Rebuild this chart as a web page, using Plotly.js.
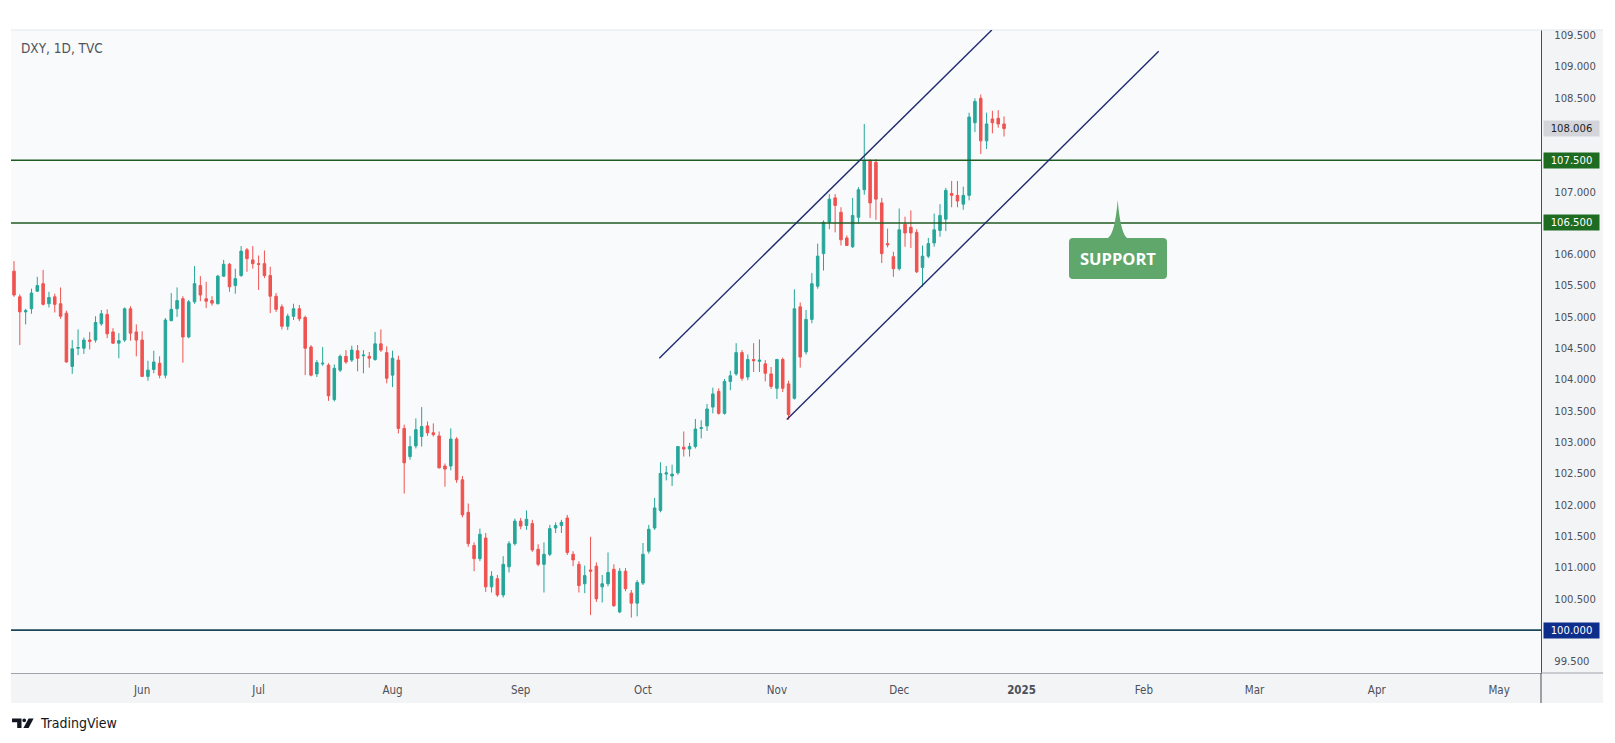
<!DOCTYPE html>
<html><head><meta charset="utf-8">
<script src="https://cdn.plot.ly/plotly-3.0.1.min.js"></script>
<style>html,body{margin:0;padding:0;background:#fff;}#chart{width:1615px;height:743px;}</style>
</head><body><div id="chart"></div>
<script>
// ---------- DATA ----------
const dates = [
'2024-05-02','2024-05-03','2024-05-06','2024-05-07','2024-05-08','2024-05-09','2024-05-10','2024-05-13','2024-05-14','2024-05-15',
'2024-05-16','2024-05-17','2024-05-20','2024-05-21','2024-05-22','2024-05-23','2024-05-24','2024-05-27','2024-05-28','2024-05-29',
'2024-05-30','2024-05-31','2024-06-03','2024-06-04','2024-06-05','2024-06-06','2024-06-07','2024-06-10','2024-06-11','2024-06-12',
'2024-06-13','2024-06-14','2024-06-17','2024-06-18','2024-06-19','2024-06-20','2024-06-21','2024-06-24','2024-06-25','2024-06-26',
'2024-06-27','2024-06-28','2024-07-01','2024-07-02','2024-07-03','2024-07-04','2024-07-05','2024-07-08','2024-07-09','2024-07-10',
'2024-07-11','2024-07-12','2024-07-15','2024-07-16','2024-07-17','2024-07-18','2024-07-19','2024-07-22','2024-07-23','2024-07-24',
'2024-07-25','2024-07-26','2024-07-29','2024-07-30','2024-07-31','2024-08-01','2024-08-02','2024-08-05','2024-08-06','2024-08-07',
'2024-08-08','2024-08-09','2024-08-12','2024-08-13','2024-08-14','2024-08-15','2024-08-16','2024-08-19','2024-08-20','2024-08-21',
'2024-08-22','2024-08-23','2024-08-26','2024-08-27','2024-08-28','2024-08-29','2024-08-30','2024-09-02','2024-09-03','2024-09-04',
'2024-09-05','2024-09-06','2024-09-09','2024-09-10','2024-09-11','2024-09-12','2024-09-13','2024-09-16','2024-09-17','2024-09-18',
'2024-09-19','2024-09-20','2024-09-23','2024-09-24','2024-09-25','2024-09-26','2024-09-27','2024-09-30','2024-10-01','2024-10-02',
'2024-10-03','2024-10-04','2024-10-07','2024-10-08','2024-10-09','2024-10-10','2024-10-11','2024-10-14','2024-10-15','2024-10-16',
'2024-10-17','2024-10-18','2024-10-21','2024-10-22','2024-10-23','2024-10-24','2024-10-25','2024-10-28','2024-10-29','2024-10-30',
'2024-10-31','2024-11-01','2024-11-04','2024-11-05','2024-11-06','2024-11-07','2024-11-08','2024-11-11','2024-11-12','2024-11-13',
'2024-11-14','2024-11-15','2024-11-18','2024-11-19','2024-11-20','2024-11-21','2024-11-22','2024-11-25','2024-11-26','2024-11-27',
'2024-11-28','2024-11-29','2024-12-02','2024-12-03','2024-12-04','2024-12-05','2024-12-06','2024-12-09','2024-12-10','2024-12-11',
'2024-12-12','2024-12-13','2024-12-16','2024-12-17','2024-12-18','2024-12-19','2024-12-20','2024-12-23','2024-12-24','2024-12-26',
'2024-12-27'];

const openP = [
105.73,105.32,105.08,105.13,105.41,105.53,105.21,105.32,105.21,105.06,
104.21,104.50,104.50,104.63,104.63,104.89,105.04,104.76,104.58,104.63,
105.13,104.76,104.63,104.05,104.16,104.26,104.07,104.94,105.13,105.29,
104.68,105.24,105.50,105.29,105.26,105.21,105.65,105.84,105.50,105.66,
106.07,105.91,105.85,105.85,105.66,105.33,105.16,104.85,105.01,105.13,
104.99,104.52,104.09,104.25,104.23,103.68,104.15,104.37,104.31,104.46,
104.38,104.37,104.32,104.57,104.43,104.07,104.31,103.22,102.77,102.94,
103.09,103.26,103.15,103.10,102.62,102.62,103.05,102.40,101.88,101.35,
101.14,101.47,100.69,100.82,100.56,101.01,101.38,101.74,101.67,101.70,
101.29,101.05,101.21,101.63,101.67,101.79,101.21,101.05,100.74,100.96,
101.02,100.69,100.74,100.97,100.29,100.94,100.59,100.43,100.75,101.26,
101.63,101.91,102.49,102.46,102.51,102.92,102.89,102.93,103.22,103.26,
103.56,103.81,103.46,103.97,104.09,104.43,104.04,104.32,104.29,104.25,
104.09,103.86,104.32,103.93,103.70,105.16,104.44,104.96,105.49,106.01,
106.51,106.90,106.67,106.26,106.12,106.59,107.03,107.49,107.47,106.82,
106.17,105.96,105.77,106.48,106.43,106.35,105.79,105.97,106.18,106.38,
106.56,106.97,106.94,106.80,106.94,108.10,108.49,107.81,108.16,108.17,
108.08];

const highP = [
105.89,105.36,105.13,105.45,105.64,105.75,105.40,105.37,105.47,105.10,
104.63,104.80,104.67,104.76,105.01,105.11,105.12,104.82,104.74,105.15,
105.17,104.88,104.77,104.30,104.46,104.37,104.98,105.38,105.47,105.33,
105.27,105.81,105.65,105.56,105.33,105.67,105.91,105.86,105.77,106.13,
106.10,106.13,105.98,106.06,105.80,105.38,105.20,105.05,105.21,105.19,
105.02,104.55,104.31,104.52,104.26,104.24,104.40,104.47,104.54,104.55,
104.47,104.44,104.76,104.80,104.53,104.46,104.38,103.28,103.10,103.38,
103.56,103.33,103.30,103.17,102.66,103.22,103.08,102.46,102.02,101.40,
101.62,101.55,100.94,100.88,101.18,101.42,101.78,101.79,101.91,101.76,
101.37,101.40,101.68,101.72,101.76,101.84,101.26,101.10,101.03,101.49,
101.08,100.88,101.24,101.05,100.99,100.99,100.64,100.80,101.39,101.68,
102.11,102.68,102.62,102.64,102.94,103.17,102.99,103.37,103.35,103.61,
103.87,103.86,104.01,104.14,104.58,104.47,104.40,104.58,104.64,104.31,
104.20,104.33,104.35,103.98,105.44,105.23,105.11,105.70,106.17,106.54,
106.96,106.96,106.75,106.30,106.90,107.07,108.08,107.52,107.52,106.90,
106.41,106.04,106.73,106.60,106.70,106.40,106.14,106.26,106.65,106.80,
107.06,107.17,107.17,107.08,108.26,108.49,108.55,108.26,108.29,108.30,
108.20];

const lowP = [
105.32,104.55,104.88,105.05,105.40,105.18,105.15,105.07,104.97,104.27,
104.09,104.39,104.41,104.48,104.59,104.86,104.66,104.57,104.34,104.60,
104.62,104.37,104.04,103.98,104.10,104.02,104.02,104.93,105.00,104.27,
104.66,105.21,105.25,105.14,105.18,105.20,105.64,105.40,105.37,105.64,
105.72,105.77,105.43,105.62,105.06,105.08,104.80,104.79,104.95,104.93,
104.07,104.05,104.04,104.22,103.66,103.65,104.12,104.25,104.28,104.13,
104.10,104.19,104.30,104.44,103.94,103.88,103.14,102.18,102.72,102.90,
102.93,103.10,103.09,102.58,102.29,102.55,102.35,101.80,101.33,100.94,
101.10,100.61,100.60,100.53,100.52,100.92,101.35,101.61,101.60,101.25,
101.02,100.60,101.18,101.55,101.55,101.20,101.02,100.60,100.59,100.24,
100.45,100.44,100.70,100.37,100.27,100.62,100.20,100.22,100.72,101.22,
101.60,101.88,102.39,102.30,102.48,102.77,102.77,102.90,103.06,103.18,
103.46,103.44,103.44,103.83,104.06,103.98,103.99,104.12,104.12,103.97,
103.85,103.69,103.80,103.36,103.68,104.19,104.40,104.90,105.45,105.74,
106.40,106.35,106.14,106.14,106.10,106.49,106.95,106.58,106.55,105.86,
106.11,105.64,105.74,106.12,106.10,105.70,105.48,105.94,106.12,106.28,
106.37,106.75,106.75,106.71,106.86,107.95,107.60,107.68,107.93,108.02,
107.88];

const closeP = [
105.35,105.08,105.10,105.38,105.50,105.20,105.31,105.20,105.01,104.28,
104.49,104.51,104.63,104.61,104.91,105.05,104.73,104.58,104.62,105.13,
104.74,104.63,104.05,104.15,104.28,104.07,104.95,105.12,105.26,104.68,
105.24,105.53,105.35,105.25,105.22,105.65,105.84,105.48,105.61,106.05,
105.93,105.85,105.84,105.66,105.33,105.12,104.85,105.01,105.13,104.97,
104.50,104.07,104.27,104.26,103.74,104.18,104.37,104.28,104.47,104.34,
104.39,104.34,104.57,104.47,104.02,104.34,103.22,102.67,102.93,103.20,
103.25,103.15,103.12,102.59,102.57,103.05,102.40,101.84,101.38,101.14,
101.53,100.69,100.86,100.56,101.05,101.38,101.74,101.66,101.77,101.28,
101.05,101.21,101.62,101.67,101.72,101.24,101.12,100.71,100.87,100.94,
100.50,100.74,100.92,100.39,100.94,100.66,100.43,100.76,101.21,101.61,
101.95,102.50,102.51,102.49,102.93,102.89,102.93,103.21,103.23,103.53,
103.77,103.46,103.97,104.06,104.43,104.02,104.32,104.30,104.31,104.10,
103.89,104.32,103.86,103.44,105.13,104.36,104.96,105.53,105.97,106.51,
106.88,106.78,106.23,106.14,106.62,107.03,107.49,106.82,106.88,106.01,
106.15,105.77,106.39,106.34,106.34,105.72,105.97,106.17,106.39,106.62,
107.02,106.94,106.85,106.94,108.19,108.44,107.81,108.08,108.10,108.08,
108.006];

const tickDates  = ['2024-06-03','2024-07-01','2024-08-01','2024-09-02','2024-10-01','2024-11-01','2024-12-02','2025-01-02','2025-02-03','2025-03-03','2025-04-01','2025-05-01'];
const tickLabels = ['Jun','Jul','Aug','Sep','Oct','Nov','Dec','<b>2025</b>','Feb','Mar','Apr','May'];
// price-scale ticks (the ones hidden under the marker boxes are left out)
const priceTicks = [99.5, 100.5, 101.0, 101.5, 102.0, 102.5, 103.0, 103.5, 104.0, 104.5, 105.0, 105.5, 106.0, 107.0, 108.5, 109.0, 109.5];
const holidays   = ['2024-12-25','2025-01-01','2025-01-20','2025-02-17','2025-04-18'];
const resistanceLevels = [107.5, 106.5];
const baseLevel  = 100.0;
const lastPrice  = 108.006;
const channelUpper = [['2024-10-04 07:12', 104.34], ['2024-12-24 09:36', 109.58]];
const channelLower = [['2024-11-05 04:48', 103.36], ['2025-02-06 01:26', 109.24]];
const xRange = ['2024-05-01 23:38', '2025-05-12 16:48'];
const yRange = [99.315, 109.58];

// ---------- LAYOUT HELPERS ----------
const W = 1615, H = 743, ML = 11, MR = 74, MT = 30, MB = 70;
const PW = W - ML - MR, PH = H - MT - MB;
const px = x => (x - ML) / PW;
const py = y => (H - MB - y) / PH;
const path = cmds => cmds.map(([k, ...pts]) => k + ' ' + pts.map(([x, y]) => px(x) + ',' + py(y)).join(' ')).join(' ') + ' Z';

const F = "'DejaVu Sans Condensed', 'DejaVu Sans', sans-serif";
const UP = '#26a69a', DOWN = '#ef5350';
const STRIP = '#f3f4f6';

const shapes = [
  {type:'rect', xref:'paper', yref:'paper', x0:1, x1:px(1603), y0:py(703), y1:1, fillcolor:STRIP, line:{width:0}, layer:'below'},
  {type:'rect', xref:'paper', yref:'paper', x0:0, x1:1, y0:py(703), y1:0, fillcolor:STRIP, line:{width:0}, layer:'below'},
  {type:'line', xref:'paper', yref:'paper', x0:0, x1:px(1603), y0:1, y1:1, line:{color:'#e3e5ea', width:1}},
  {type:'line', xref:'paper', yref:'paper', x0:1, x1:px(1603), y0:0, y1:0, line:{color:'#a0a3a9', width:1}},
  {type:'line', xref:'paper', yref:'paper', x0:1, x1:1, y0:py(703), y1:0, line:{color:'#4a4d55', width:1}},
];
resistanceLevels.forEach(v => shapes.push({type:'line', xref:'paper', x0:0, x1:1, yref:'y', y0:v, y1:v, line:{color:'#1f5c22', width:1.6}}));
shapes.push({type:'line', xref:'paper', x0:0, x1:1, yref:'y', y0:baseLevel, y1:baseLevel, line:{color:'#1d4658', width:1.6}});
[channelUpper, channelLower].forEach(c => shapes.push({type:'line', xref:'x', yref:'y', x0:c[0][0], y0:c[0][1], x1:c[1][0], y1:c[1][1], line:{color:'#1f2b6e', width:1.4}}));

// SUPPORT callout
shapes.push({type:'path', xref:'paper', yref:'paper', fillcolor:'#5fa76a', line:{width:0}, layer:'above',
  path: path([
    ['M',[1073,238]], ['L',[1108,238]], ['Q',[1115,233],[1117.7,200]], ['Q',[1120.5,233],[1127,238]],
    ['L',[1163,238]], ['Q',[1167,238],[1167,242]], ['L',[1167,275]], ['Q',[1167,279],[1163,279]],
    ['L',[1073,279]], ['Q',[1069,279],[1069,275]], ['L',[1069,242]], ['Q',[1069,238],[1073,238]]
  ])});

// TradingView logo mark
shapes.push({type:'path', xref:'paper', yref:'paper', fillcolor:'#131722', line:{width:0},
  path: path([['M',[12,718.5]],['L',[21.5,718.5]],['L',[21.5,728]],['L',[17.2,728]],['L',[17.2,722.2]],['L',[12,722.2]]])});
shapes.push({type:'circle', xref:'paper', yref:'paper', fillcolor:'#131722', line:{width:0},
  x0:px(22.3), x1:px(26.1), y0:py(722.2), y1:py(718.4)});
shapes.push({type:'path', xref:'paper', yref:'paper', fillcolor:'#131722', line:{width:0},
  path: path([['M',[28.6,718.5]],['L',[33.6,718.5]],['L',[28.6,728]],['L',[23.4,728]]])});

const boxAnn = (v, txt, bg, fg) => ({xref:'paper', x:px(1542.5), xanchor:'left', yref:'y', y:v, yanchor:'middle',
  text:txt, showarrow:false, bgcolor:bg, font:{family:F, size:11.2, color:fg}, width:53, height:13, borderpad:1, align:'center'});

const annotations = [
  {xref:'paper', x:px(19), xanchor:'left', yref:'paper', y:py(48), yanchor:'middle', text:'DXY, 1D, TVC', showarrow:false,
   font:{family:F, size:13.5, color:'#50535a'}},
  boxAnn(lastPrice, lastPrice.toFixed(3), '#d3d5da', '#1e1f24'),
  boxAnn(resistanceLevels[0], resistanceLevels[0].toFixed(3), '#1e6b22', '#ffffff'),
  boxAnn(resistanceLevels[1], resistanceLevels[1].toFixed(3), '#1e6b22', '#ffffff'),
  boxAnn(baseLevel, baseLevel.toFixed(3), '#0e2e8c', '#ffffff'),
  {xref:'paper', x:px(1118), xanchor:'center', yref:'paper', y:py(258.5), yanchor:'middle', text:'<b>SUPPORT</b>', showarrow:false,
   font:{family:"'Open Sans', sans-serif", size:16.5, color:'#ffffff'}},
  {xref:'paper', x:px(37.5), xanchor:'left', yref:'paper', y:py(723), yanchor:'middle', text:'TradingView', showarrow:false,
   font:{family:F, size:14, color:'#131722'}},
];

const trace = {
  type:'candlestick', x: dates.map(d => d + ' 12:00'),
  open: openP, high: highP, low: lowP, close: closeP,
  increasing:{line:{color:UP, width:1}, fillcolor:UP},
  decreasing:{line:{color:DOWN, width:1}, fillcolor:DOWN},
  whiskerwidth:0, hoverinfo:'skip', showlegend:false
};

const layout = {
  width:W, height:H, margin:{l:ML, r:MR, t:MT, b:MB, pad:0},
  paper_bgcolor:'#ffffff', plot_bgcolor:'#f9fafc',
  showlegend:false, hovermode:false, boxgap:0.38,
  xaxis:{type:'date', range:xRange, rangeslider:{visible:false},
    rangebreaks:[{bounds:['sat','mon']}, {values:holidays}],
    tickmode:'array', tickvals: tickDates.map(d => d + ' 12:00'), ticktext: tickLabels,
    showgrid:false, zeroline:false, showline:true, linecolor:'#a0a3a9', linewidth:1,
    ticks:'', ticklabelstandoff:6, tickfont:{family:F, size:11.5, color:'#4d5058'}},
  yaxis:{range:yRange, side:'right', tickmode:'array', tickvals:priceTicks, ticktext:priceTicks.map(v => v.toFixed(3)),
    showgrid:false, zeroline:false, showline:true, linecolor:'#4a4d55', linewidth:1,
    ticks:'', ticklabelstandoff:10, tickfont:{family:F, size:11.2, color:'#4d5058'}},
  shapes, annotations
};

Plotly.newPlot('chart', [trace], layout, {staticPlot:true, displayModeBar:false});
</script></body></html>
